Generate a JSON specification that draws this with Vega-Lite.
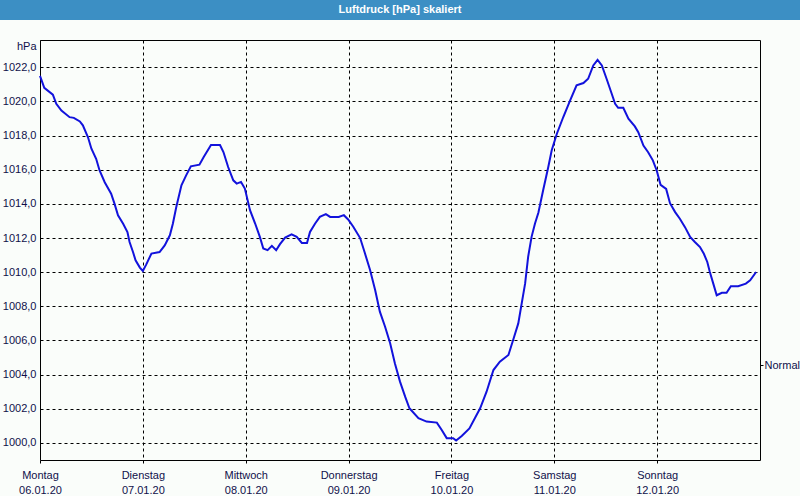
{
  "$schema": "https://vega.github.io/schema/vega-lite/v6.json",
  "background": "#fafdfa",
  "padding": 0,
  "spacing": 20,
  "bounds": "flush",
  "center": true,
  "config": {
    "font": "Liberation Sans",
    "axis": {
      "labelFont": "Liberation Sans",
      "labelFontSize": 11,
      "labelColor": "#10104a",
      "titleFont": "Liberation Sans",
      "titleFontSize": 11,
      "titleFontWeight": "normal",
      "titleColor": "#10104a",
      "gridColor": "#000000",
      "gridDash": [3, 3],
      "gridOpacity": 1,
      "tickColor": "#000000",
      "domain": false
    },
    "locale": {
      "number": {"decimal": ",", "thousands": ".", "grouping": [3], "currency": ["", " €"]},
      "time": {
        "dateTime": "%A, der %e. %B %Y, %X",
        "date": "%d.%m.%Y",
        "time": "%H:%M:%S",
        "periods": ["AM", "PM"],
        "days": ["Sonntag", "Montag", "Dienstag", "Mittwoch", "Donnerstag", "Freitag", "Samstag"],
        "shortDays": ["So", "Mo", "Di", "Mi", "Do", "Fr", "Sa"],
        "months": ["Januar", "Februar", "März", "April", "Mai", "Juni", "Juli", "August", "September", "Oktober", "November", "Dezember"],
        "shortMonths": ["Jan", "Feb", "Mrz", "Apr", "Mai", "Jun", "Jul", "Aug", "Sep", "Okt", "Nov", "Dez"]
      }
    }
  },
  "vconcat": [
    {
      "width": 800,
      "height": 20,
      "view": {"fill": "#3c8fc4", "stroke": null},
      "data": {"values": [{"title": "Luftdruck [hPa] skaliert"}]},
      "mark": {"type": "text", "color": "#ffffff", "font": "Liberation Sans", "fontWeight": "bold", "fontSize": 11, "align": "center", "baseline": "middle"},
      "encoding": {"text": {"field": "title", "type": "nominal"}}
    },
    {
      "width": 720,
      "height": 420,
      "view": {"fill": "#fafdfa", "stroke": "#000000", "strokeWidth": 1},
      "data": {"values": [
        {"t": "2020-01-06T00:00", "p": 1021.5},
        {"t": "2020-01-06T01:00", "p": 1020.8},
        {"t": "2020-01-06T03:00", "p": 1020.4},
        {"t": "2020-01-06T03:48", "p": 1019.86},
        {"t": "2020-01-06T05:00", "p": 1019.47},
        {"t": "2020-01-06T06:54", "p": 1019.08},
        {"t": "2020-01-06T07:54", "p": 1019.04},
        {"t": "2020-01-06T09:18", "p": 1018.83},
        {"t": "2020-01-06T10:00", "p": 1018.6},
        {"t": "2020-01-06T11:12", "p": 1017.9},
        {"t": "2020-01-06T12:00", "p": 1017.23},
        {"t": "2020-01-06T13:06", "p": 1016.64},
        {"t": "2020-01-06T13:54", "p": 1015.96},
        {"t": "2020-01-06T15:06", "p": 1015.27},
        {"t": "2020-01-06T16:36", "p": 1014.6},
        {"t": "2020-01-06T17:24", "p": 1014.0},
        {"t": "2020-01-06T18:12", "p": 1013.33},
        {"t": "2020-01-06T19:24", "p": 1012.84},
        {"t": "2020-01-06T20:24", "p": 1012.35},
        {"t": "2020-01-06T20:54", "p": 1011.77},
        {"t": "2020-01-06T21:42", "p": 1011.18},
        {"t": "2020-01-06T22:18", "p": 1010.7},
        {"t": "2020-01-06T23:18", "p": 1010.27},
        {"t": "2020-01-07T00:00", "p": 1010.07},
        {"t": "2020-01-07T00:48", "p": 1010.46},
        {"t": "2020-01-07T02:00", "p": 1011.09},
        {"t": "2020-01-07T03:54", "p": 1011.18},
        {"t": "2020-01-07T05:06", "p": 1011.57},
        {"t": "2020-01-07T06:18", "p": 1012.16},
        {"t": "2020-01-07T07:00", "p": 1012.84},
        {"t": "2020-01-07T07:48", "p": 1013.82},
        {"t": "2020-01-07T09:00", "p": 1015.09},
        {"t": "2020-01-07T10:06", "p": 1015.67},
        {"t": "2020-01-07T11:12", "p": 1016.2},
        {"t": "2020-01-07T13:12", "p": 1016.3},
        {"t": "2020-01-07T14:12", "p": 1016.75},
        {"t": "2020-01-07T15:54", "p": 1017.45},
        {"t": "2020-01-07T18:00", "p": 1017.45},
        {"t": "2020-01-07T18:48", "p": 1017.04},
        {"t": "2020-01-07T19:54", "p": 1016.16},
        {"t": "2020-01-07T21:06", "p": 1015.38},
        {"t": "2020-01-07T21:54", "p": 1015.19},
        {"t": "2020-01-07T22:54", "p": 1015.29},
        {"t": "2020-01-07T23:48", "p": 1014.9},
        {"t": "2020-01-08T01:00", "p": 1013.63},
        {"t": "2020-01-08T02:12", "p": 1012.85},
        {"t": "2020-01-08T03:18", "p": 1012.07},
        {"t": "2020-01-08T04:06", "p": 1011.39},
        {"t": "2020-01-08T05:06", "p": 1011.29},
        {"t": "2020-01-08T06:06", "p": 1011.54},
        {"t": "2020-01-08T07:06", "p": 1011.29},
        {"t": "2020-01-08T08:00", "p": 1011.64},
        {"t": "2020-01-08T09:12", "p": 1012.03},
        {"t": "2020-01-08T10:42", "p": 1012.22},
        {"t": "2020-01-08T11:54", "p": 1012.07},
        {"t": "2020-01-08T13:06", "p": 1011.71},
        {"t": "2020-01-08T14:18", "p": 1011.71},
        {"t": "2020-01-08T15:00", "p": 1012.36},
        {"t": "2020-01-08T16:12", "p": 1012.85},
        {"t": "2020-01-08T17:18", "p": 1013.24},
        {"t": "2020-01-08T18:42", "p": 1013.4},
        {"t": "2020-01-08T19:42", "p": 1013.24},
        {"t": "2020-01-08T21:42", "p": 1013.24},
        {"t": "2020-01-08T22:54", "p": 1013.34},
        {"t": "2020-01-08T23:54", "p": 1013.09},
        {"t": "2020-01-09T01:06", "p": 1012.66},
        {"t": "2020-01-09T02:42", "p": 1012.0},
        {"t": "2020-01-09T03:48", "p": 1011.12},
        {"t": "2020-01-09T05:00", "p": 1010.14},
        {"t": "2020-01-09T06:12", "p": 1008.96},
        {"t": "2020-01-09T07:18", "p": 1007.69},
        {"t": "2020-01-09T08:30", "p": 1006.82},
        {"t": "2020-01-09T09:42", "p": 1005.84},
        {"t": "2020-01-09T10:48", "p": 1004.67},
        {"t": "2020-01-09T12:00", "p": 1003.59},
        {"t": "2020-01-09T13:12", "p": 1002.71},
        {"t": "2020-01-09T14:12", "p": 1002.03},
        {"t": "2020-01-09T16:18", "p": 1001.45},
        {"t": "2020-01-09T18:12", "p": 1001.25},
        {"t": "2020-01-09T20:36", "p": 1001.19},
        {"t": "2020-01-09T21:42", "p": 1000.77},
        {"t": "2020-01-09T22:54", "p": 1000.28},
        {"t": "2020-01-10T00:24", "p": 1000.28},
        {"t": "2020-01-10T01:06", "p": 1000.14},
        {"t": "2020-01-10T02:24", "p": 1000.41},
        {"t": "2020-01-10T04:12", "p": 1000.85},
        {"t": "2020-01-10T06:42", "p": 1002.03},
        {"t": "2020-01-10T08:12", "p": 1003.0},
        {"t": "2020-01-10T09:48", "p": 1004.27},
        {"t": "2020-01-10T11:18", "p": 1004.76},
        {"t": "2020-01-10T13:18", "p": 1005.15},
        {"t": "2020-01-10T14:24", "p": 1006.03},
        {"t": "2020-01-10T15:36", "p": 1007.0},
        {"t": "2020-01-10T16:24", "p": 1008.17},
        {"t": "2020-01-10T17:12", "p": 1009.34},
        {"t": "2020-01-10T17:54", "p": 1010.9},
        {"t": "2020-01-10T18:42", "p": 1012.07},
        {"t": "2020-01-10T19:30", "p": 1012.85},
        {"t": "2020-01-10T20:18", "p": 1013.5},
        {"t": "2020-01-10T21:24", "p": 1014.8},
        {"t": "2020-01-10T22:36", "p": 1016.16},
        {"t": "2020-01-10T23:24", "p": 1017.14},
        {"t": "2020-01-11T00:36", "p": 1018.11},
        {"t": "2020-01-11T02:06", "p": 1019.09},
        {"t": "2020-01-11T03:42", "p": 1020.06},
        {"t": "2020-01-11T05:12", "p": 1020.94},
        {"t": "2020-01-11T06:48", "p": 1021.08},
        {"t": "2020-01-11T07:54", "p": 1021.33},
        {"t": "2020-01-11T09:06", "p": 1022.11},
        {"t": "2020-01-11T10:06", "p": 1022.44},
        {"t": "2020-01-11T11:06", "p": 1022.11},
        {"t": "2020-01-11T12:12", "p": 1021.33},
        {"t": "2020-01-11T13:24", "p": 1020.45},
        {"t": "2020-01-11T14:12", "p": 1019.86},
        {"t": "2020-01-11T14:54", "p": 1019.63},
        {"t": "2020-01-11T16:06", "p": 1019.63},
        {"t": "2020-01-11T17:18", "p": 1018.99},
        {"t": "2020-01-11T18:48", "p": 1018.54},
        {"t": "2020-01-11T19:36", "p": 1018.2},
        {"t": "2020-01-11T20:48", "p": 1017.42},
        {"t": "2020-01-11T21:54", "p": 1017.03},
        {"t": "2020-01-11T23:00", "p": 1016.55},
        {"t": "2020-01-11T23:54", "p": 1015.96},
        {"t": "2020-01-12T00:48", "p": 1015.12},
        {"t": "2020-01-12T02:06", "p": 1014.88},
        {"t": "2020-01-12T03:00", "p": 1014.04},
        {"t": "2020-01-12T04:12", "p": 1013.52},
        {"t": "2020-01-12T05:18", "p": 1013.13},
        {"t": "2020-01-12T06:30", "p": 1012.64},
        {"t": "2020-01-12T07:42", "p": 1012.06},
        {"t": "2020-01-12T08:48", "p": 1011.77},
        {"t": "2020-01-12T10:00", "p": 1011.47},
        {"t": "2020-01-12T10:54", "p": 1011.08},
        {"t": "2020-01-12T11:42", "p": 1010.6},
        {"t": "2020-01-12T12:18", "p": 1010.01},
        {"t": "2020-01-12T13:06", "p": 1009.33},
        {"t": "2020-01-12T13:54", "p": 1008.65},
        {"t": "2020-01-12T15:06", "p": 1008.79},
        {"t": "2020-01-12T16:12", "p": 1008.79},
        {"t": "2020-01-12T17:12", "p": 1009.18},
        {"t": "2020-01-12T18:54", "p": 1009.18},
        {"t": "2020-01-12T20:42", "p": 1009.33},
        {"t": "2020-01-12T21:42", "p": 1009.53},
        {"t": "2020-01-12T23:06", "p": 1010.01}
      ]},
      "layer": [
        {
          "mark": {"type": "line", "color": "#1212dc", "strokeWidth": 2},
          "encoding": {
            "x": {
              "field": "t", "type": "temporal",
              "scale": {"domain": [{"year": 2020, "month": 1, "date": 6}, {"year": 2020, "month": 1, "date": 13}]},
              "axis": {
                "title": null,
                "values": [
                  {"year": 2020, "month": 1, "date": 6},
                  {"year": 2020, "month": 1, "date": 7},
                  {"year": 2020, "month": 1, "date": 8},
                  {"year": 2020, "month": 1, "date": 9},
                  {"year": 2020, "month": 1, "date": 10},
                  {"year": 2020, "month": 1, "date": 11},
                  {"year": 2020, "month": 1, "date": 12}
                ],
                "labelExpr": "[timeFormat(datum.value, '%A'), timeFormat(datum.value, '%d.%m.%y')]",
                "labelFlush": false,
                "labelOverlap": false,
                "labelLineHeight": 15,
                "labelPadding": 6,
                "tickSize": 3,
                "grid": true
              }
            },
            "y": {
              "field": "p", "type": "quantitative",
              "scale": {"domain": [999.0, 1023.6], "nice": false, "zero": false},
              "axis": {
                "title": "hPa",
                "titleAngle": 0,
                "titleAlign": "right",
                "titleBaseline": "middle",
                "titleX": -4,
                "titleY": 6,
                "values": [1000, 1002, 1004, 1006, 1008, 1010, 1012, 1014, 1016, 1018, 1020, 1022],
                "format": ".1f",
                "ticks": false,
                "labelPadding": 4,
                "grid": true
              }
            }
          }
        },
        {
          "data": {"values": [{"n": 1004.56}]},
          "mark": {"type": "rule", "opacity": 0},
          "encoding": {
            "y": {
              "field": "n", "type": "quantitative",
              "axis": {
                "orient": "right",
                "title": null,
                "values": [1004.56],
                "labelExpr": "'Normal'",
                "grid": false,
                "ticks": true,
                "tickSize": 3,
                "labelPadding": 1
              }
            }
          }
        }
      ],
      "resolve": {"axis": {"y": "independent"}}
    }
  ]
}
